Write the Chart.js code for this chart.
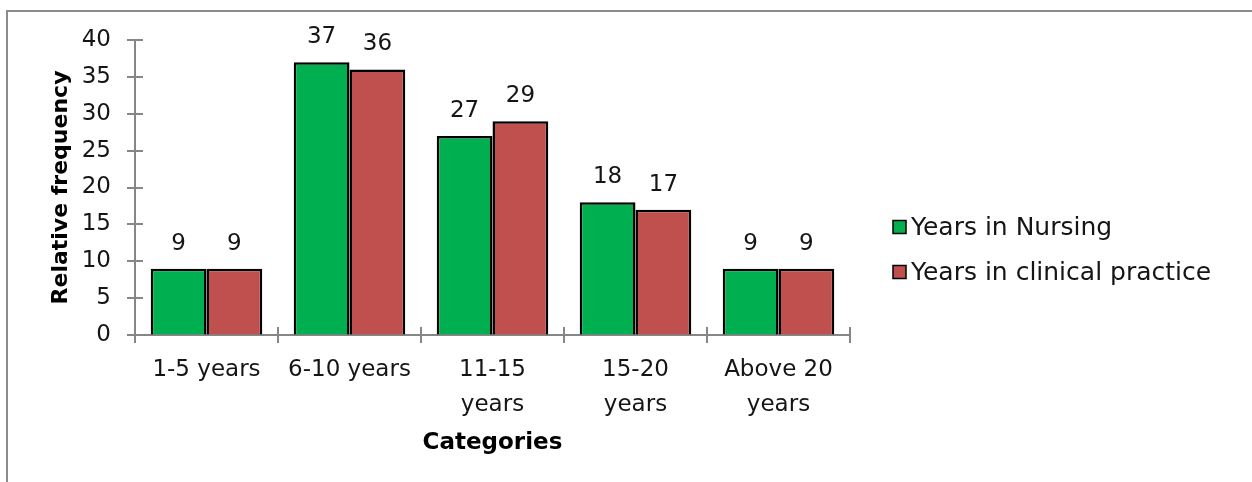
<!DOCTYPE html>
<html>
<head>
<meta charset="utf-8">
<script src="https://cdn.jsdelivr.net/npm/chart.js@4/dist/chart.umd.min.js"></script>
<style>
  html, body { margin: 0; padding: 0; background: #fff; overflow: hidden; }
  #frame {
    position: absolute; left: 6px; top: 10px; right: 0; bottom: 0;
    border-top: 2px solid #8c8c8c; border-left: 2px solid #8c8c8c;
  }
  #chart { position: absolute; left: 0; top: 0; }
</style>
</head>
<body>
<div id="frame"></div>
<canvas id="chart" width="1252" height="482"></canvas>
<script>
const categories = [['1-5 years'], ['6-10 years'], ['11-15', 'years'], ['15-20', 'years'], ['Above 20', 'years']];
const yearsNursing = [9, 37, 27, 18, 9];
const yearsClinical = [9, 36, 29, 17, 9];
const seriesNames = ['Years in Nursing', 'Years in clinical practice'];

const FONT = 'DejaVu Sans';
const AXIS_GREY = '#868686';
const TEXT = '#151515';

// value labels above every bar
const barLabels = {
  id: 'barLabels',
  afterDatasetsDraw(chart) {
    const ctx = chart.ctx;
    ctx.save();
    ctx.font = '23px ' + FONT;
    ctx.fillStyle = TEXT;
    ctx.textAlign = 'center';
    ctx.textBaseline = 'middle';
    chart.data.datasets.forEach((ds, i) => {
      chart.getDatasetMeta(i).data.forEach((bar, j) => {
        ctx.fillText(String(ds.data[j]), bar.x, bar.y - 25);
      });
    });
    ctx.restore();
  }
};

// tick marks that cross the axis lines
const crossTicks = {
  id: 'crossTicks',
  afterDraw(chart) {
    const ctx = chart.ctx;
    const x = chart.scales.x, y = chart.scales.y;
    ctx.save();
    ctx.strokeStyle = AXIS_GREY;
    ctx.lineWidth = 2;
    ctx.beginPath();
    y.ticks.forEach(t => {
      const py = Math.round(y.getPixelForValue(t.value));
      ctx.moveTo(y.right - 8, py);
      ctx.lineTo(y.right + 8, py);
    });
    const n = chart.data.labels.length;
    const step = (x.right - x.left) / n;
    for (let i = 0; i <= n; i++) {
      const px = Math.round(x.left + i * step);
      ctx.moveTo(px, x.top - 8);
      ctx.lineTo(px, x.top + 8);
    }
    ctx.stroke();
    ctx.restore();
  }
};

// legend on the right side
const sideLegend = {
  id: 'sideLegend',
  afterDraw(chart) {
    const ctx = chart.ctx;
    ctx.save();
    ctx.font = '25px ' + FONT;
    ctx.textBaseline = 'middle';
    chart.data.datasets.forEach((ds, i) => {
      const cy = 227 + i * 45;
      ctx.fillStyle = ds.backgroundColor;
      ctx.fillRect(893, cy - 6.5, 13, 13);
      ctx.strokeStyle = '#000';
      ctx.lineWidth = 1.5;
      ctx.strokeRect(893, cy - 6.5, 13, 13);
      ctx.fillStyle = TEXT;
      ctx.fillText(ds.label, 911, cy + 1);
    });
    ctx.restore();
  }
};

new Chart(document.getElementById('chart'), {
  type: 'bar',
  data: {
    labels: categories,
    datasets: [
      { label: seriesNames[0], data: yearsNursing, backgroundColor: '#00B050', borderColor: '#000', borderWidth: 2.5 },
      { label: seriesNames[1], data: yearsClinical, backgroundColor: '#C0504D', borderColor: '#000', borderWidth: 2.5 }
    ]
  },
  options: {
    responsive: false,
    animation: false,
    devicePixelRatio: 1,
    layout: { padding: { left: 0, top: 40, right: 402, bottom: 0 } },
    datasets: { bar: { categoryPercentage: 0.78, barPercentage: 1 } },
    plugins: { legend: { display: false }, tooltip: { enabled: false } },
    scales: {
      x: {
        afterFit: s => { s.height = 147; },
        grid: { color: 'transparent', drawOnChartArea: false, tickLength: 8 },
        border: { color: AXIS_GREY, width: 2 },
        ticks: { color: TEXT, font: { family: FONT, size: 23, lineHeight: 1.5 }, padding: 10, maxRotation: 0 },
        title: { display: true, text: 'Categories', color: '#000', font: { family: FONT, size: 23, weight: 'bold' }, padding: { bottom: 25 } }
      },
      y: {
        min: 0, max: 40,
        afterFit: s => { s.width = 135; },
        grid: { color: 'transparent', drawOnChartArea: false, tickLength: 8 },
        border: { color: AXIS_GREY, width: 2 },
        ticks: { stepSize: 5, color: TEXT, font: { family: FONT, size: 23 }, padding: 16 },
        title: { display: true, text: 'Relative frequency', color: '#000', font: { family: FONT, size: 22, weight: 'bold' }, padding: { top: 48 } }
      }
    }
  },
  plugins: [barLabels, crossTicks, sideLegend]
});
</script>
</body>
</html>
